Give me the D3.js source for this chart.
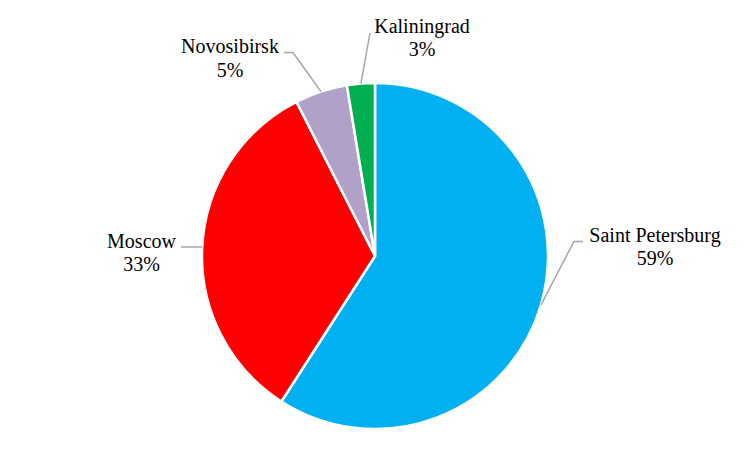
<!DOCTYPE html>
<html><head><meta charset="utf-8">
<script src="https://cdn.jsdelivr.net/npm/d3@7"></script>
<style>body{margin:0;background:#fff}svg{display:block}</style>
</head><body>
<svg id="chart" width="750" height="451"></svg>
<script>
const categories = ["Saint Petersburg", "Moscow", "Novosibirsk", "Kaliningrad"];
const values = [59.1, 33.4, 4.9, 2.6];
const colors = ["#00B0F0", "#FF0000", "#B1A0C7", "#00B050"];
// label layout: elbow point, line end and text anchor (relative to chart centre)
const labelLayout = [
  {elbow:[199,-14.5], end:[208,-14.5], text:[280,-14.3]},
  {elbow:[-173,-9], end:[-194,-9], text:[-233.5,-8.3]},
  {elbow:[-82,-203.5], end:[-91,-203.5], text:[-145,-203]},
  {elbow:[-5,-223], end:[-5,-223], text:[47,-223.3]}
];

const svg = d3.select("#chart");
const cx = 375, cy = 256, r = 173;
const g = svg.append("g").attr("transform", `translate(${cx},${cy})`);
const total = d3.sum(values);
const data = categories.map((c,i)=>({name:c, value:values[i], color:colors[i], lay:labelLayout[i]}));
const pie = d3.pie().value(d=>d.value).sort(null);
const arc = d3.arc().innerRadius(0).outerRadius(r);
const arcs = pie(data);

g.selectAll("path.slice").data(arcs).join("path")
  .attr("class","slice")
  .attr("d", arc)
  .attr("fill", d=>d.data.color)
  .attr("stroke","#fff").attr("stroke-width",2.5).attr("stroke-linejoin","round");

const k = 20/30;
arcs.forEach(d=>{
  const mid = (d.startAngle + d.endAngle)/2;
  const p0 = [r*Math.sin(mid), -r*Math.cos(mid)];
  const L = d.data.lay;
  g.append("polyline")
    .attr("points", [p0, L.elbow, L.end].map(p=>p.join(",")).join(" "))
    .attr("fill","none").attr("stroke","#A6A6A6").attr("stroke-width",1.5);
  const lines = [d.data.name, Math.round(d.data.value/total*100)+"%"];
  lines.forEach((s,j)=>{
    svg.append("text")
      .attr("transform", `translate(${cx + L.text[0]},${cy + L.text[1] + j*23.7}) scale(${k})`)
      .attr("x", 0).attr("y", 0)
      .attr("text-anchor", "middle")
      .style("font-family", `"Liberation Serif"`)
      .style("font-size", "30px")
      .text(s);
  });
});
</script>
</body></html>
